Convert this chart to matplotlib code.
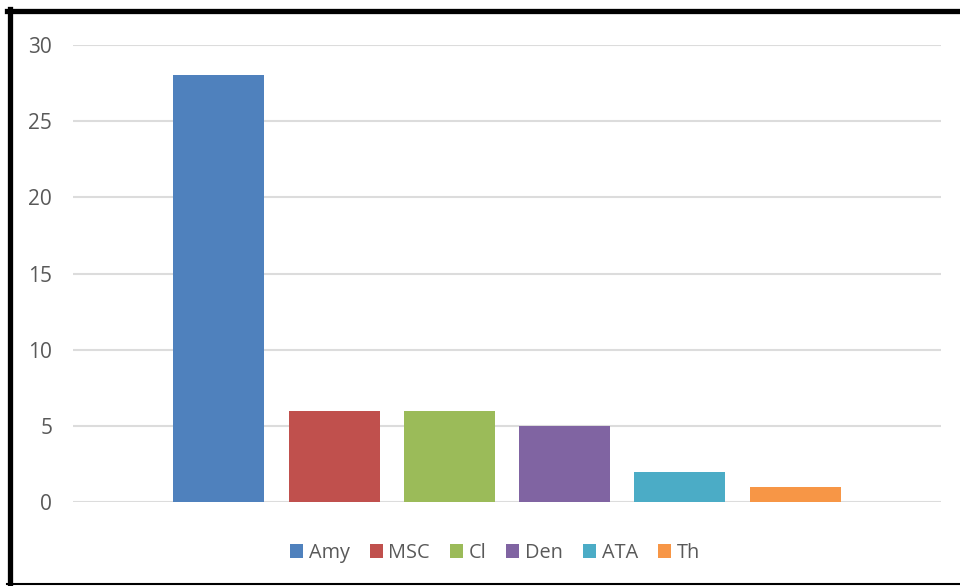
import matplotlib
matplotlib.use('Agg')
from matplotlib import pyplot as plt
from matplotlib.lines import Line2D
from matplotlib.patches import Patch

# Dados
categorias = ['Amy', 'MSC', 'Cl', 'Den', 'ATA', 'Th']
valores = [28, 6, 6, 5, 2, 1]
cores = ['#4F81BD', '#C0504D', '#9BBB59', '#8064A2', '#4BACC6', '#F79646']
ticks_y = [0, 5, 10, 15, 20, 25, 30]

plt.rcParams['font.family'] = ['Open Sans', 'DejaVu Sans']
cinza = '#595959'

fig = plt.figure(figsize=(9.6, 5.86), dpi=100)
ax = fig.add_axes([73 / 960, 1 - 502 / 586, 868 / 960, 457 / 586])

posicoes = range(len(categorias))
ax.bar(posicoes, valores, width=0.79, color=cores, zorder=3)

ax.set_ylim(0, 30)
ax.set_xlim(-1.266, 6.266)
ax.set_yticks(ticks_y)
ax.set_yticklabels([str(t) for t in ticks_y], fontsize=15, color=cinza)
ax.set_xticks([])
ax.tick_params(axis='y', length=0, pad=15)
ax.grid(axis='y', color='#DCDCDC', linewidth=1.5, zorder=0)
for lado in ax.spines.values():
    lado.set_visible(False)

# Legenda
itens = [Patch(facecolor=c, edgecolor='none') for c in cores]
fig.legend(itens, categorias, loc='center', bbox_to_anchor=(495 / 960, 1 - 553 / 586),
           ncol=6, frameon=False, fontsize=14.3, labelcolor=cinza,
           handlelength=0.65, handleheight=0.65, handletextpad=0.3, columnspacing=1.0)

# Moldura preta
fig.add_artist(Line2D([7 / 960, 1], [1 - 10.5 / 586] * 2, color='black', linewidth=3.8,
                      transform=fig.transFigure))
fig.add_artist(Line2D([9.5 / 960] * 2, [1 - 585 / 586, 1 - 8.5 / 586], color='black',
                      linewidth=3.8, transform=fig.transFigure))
fig.add_artist(Line2D([7 / 960, 1], [1 - 584 / 586] * 2, color='black', linewidth=1.5,
                      transform=fig.transFigure))

fig.savefig('out.png', dpi=100)
